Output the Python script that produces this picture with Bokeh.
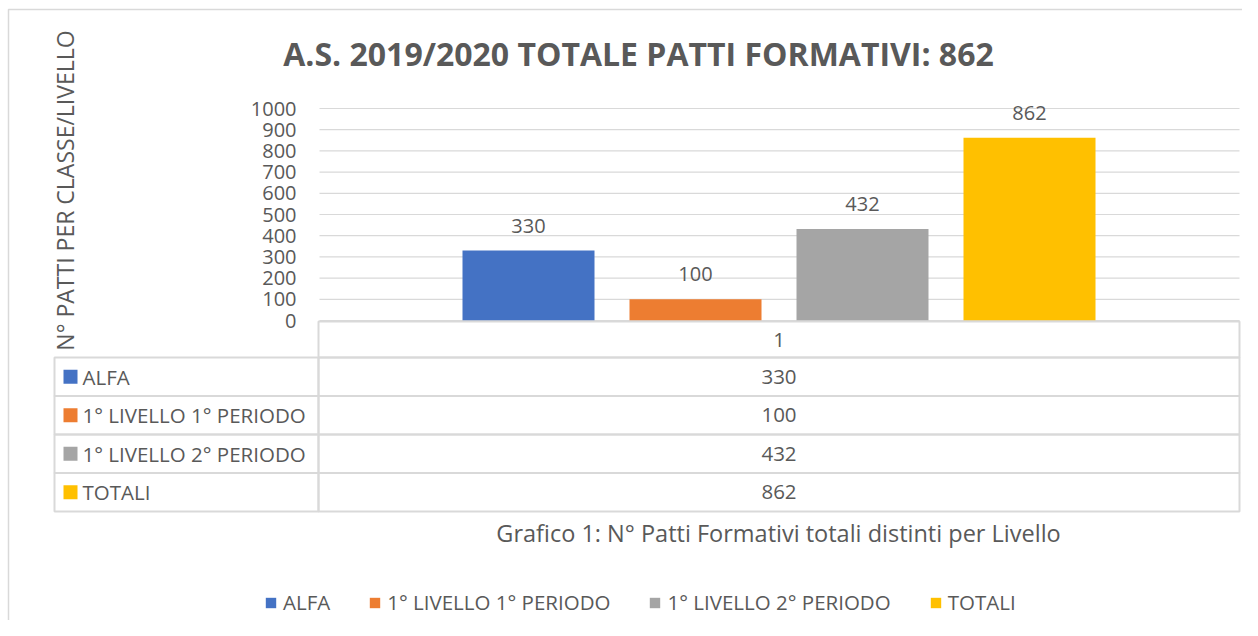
from bokeh.plotting import figure
from bokeh.models import Range1d, Legend, LegendItem, ColumnDataSource
from bokeh.core.properties import value
from bokeh.embed import file_html
from bokeh.resources import INLINE

# ---------------- data ----------------
title_text = "A.S. 2019/2020 TOTALE PATTI FORMATIVI: 862"
y_axis_title = "N° PATTI PER CLASSE/LIVELLO"
caption_text = "Grafico 1: N° Patti Formativi totali distinti per Livello"
category = "1"
series = ["ALFA", "1° LIVELLO 1° PERIODO", "1° LIVELLO 2° PERIODO", "TOTALI"]
values = [330, 100, 432, 862]
colors = ["#4472C4", "#ED7D31", "#A5A5A5", "#FFC000"]
y_ticks = [0, 100, 200, 300, 400, 500, 600, 700, 800, 900, 1000]
y_tick_labels = [str(t) for t in y_ticks]

# ---------------- layout (pixels) ----------------
W, H = 1242, 620
FONT = "Open Sans"
TXT = "#595959"
LINE = "#D9D9D9"

PL, PR = 319, 1239          # plot area left / right
PY0, PY1 = 320, 108         # pixel row of value 0 and of value 1000
SLOT = 167                  # px per category slot
BAR_W = 132                 # px bar width
FIRST_CENTER = 528          # px centre of first bar

px_per_unit = (PY0 - PY1) / (y_ticks[-1] - y_ticks[0])

idx = list(range(len(series)))

p = figure(width=W, height=H,
           x_range=Range1d(-FIRST_CENTER / SLOT, (W - FIRST_CENTER) / SLOT),
           y_range=Range1d(-(H - PY0) / px_per_unit, PY0 / px_per_unit),
           output_backend="svg", toolbar_location=None,
           x_axis_type=None, y_axis_type=None,
           min_border=0, min_border_left=0, min_border_right=0,
           min_border_top=0, min_border_bottom=0)
p.extra_x_ranges = {"px": Range1d(0, W)}
p.extra_y_ranges = {"px": Range1d(H, 0)}
p.outline_line_color = None
p.background_fill_color = "white"
p.border_fill_color = "white"
p.grid.visible = False

PX = dict(x_range_name="px", y_range_name="px")

def txt(x, y, t, size, align="center", bold=False, angle=0.0, **kw):
    p.text(x=[x], y=[y], text=[t], text_align=align, text_baseline="middle",
           text_font=value(FONT), text_font_size=size, angle=angle,
           text_font_style="bold" if bold else "normal", text_color=TXT, **kw)

# outer chart border (top and left edges visible)
p.quad(left=[8], right=[W + 50], top=[9], bottom=[H + 50], fill_alpha=0,
       line_color=LINE, line_width=1.5, **PX)

# gridlines (value axis) -- x in pixels, y in data units
p.segment(x0=[PL] * len(y_ticks), x1=[PR] * len(y_ticks), y0=y_ticks, y1=y_ticks,
          line_color=LINE, line_width=1.2, x_range_name="px")

# y tick labels
p.text(x=[296] * len(y_ticks), y=y_ticks, text=y_tick_labels, text_align="right",
       text_baseline="middle", text_font=value(FONT), text_font_size="20px",
       text_color=TXT, x_range_name="px")

# bars
src = ColumnDataSource(dict(x=idx, top=values, color=colors, series=series,
                            labels=[str(v) for v in values]))
bars = p.vbar(x="x", top="top", bottom=0, width=BAR_W / SLOT, fill_color="color",
              line_color=None, source=src)

# data labels
p.text(x="x", y="top", text="labels", source=src, y_offset=-25, text_align="center",
       text_baseline="middle", text_font=value(FONT), text_font_size="20px",
       text_color=TXT)

# titles
txt(638, 53, title_text, "32px", bold=True, **PX)
txt(64, 190, y_axis_title, "23px", angle=1.5707963, **PX)
txt(778, 532, caption_text, "23.5px", **PX)

# data table
TL, TD, TR = 54, 318, 1239
HEAD_T, ROW_T, ROW_H = 321, 357, 38.5
p.quad(left=[TD], right=[TR], top=[HEAD_T], bottom=[ROW_T], fill_alpha=0,
       line_color=LINE, line_width=2, **PX)
txt((TD + TR) / 2, (HEAD_T + ROW_T) / 2, category, "20.5px", **PX)
for i, (s, v, c) in enumerate(zip(series, values, colors)):
    t = ROW_T + i * ROW_H
    b = t + ROW_H
    mid = (t + b) / 2
    p.quad(left=[TL, TD], right=[TD, TR], top=[t, t], bottom=[b, b], fill_alpha=0,
           line_color=LINE, line_width=2, **PX)
    p.quad(left=[63], right=[77], top=[mid - 7], bottom=[mid + 7], fill_color=c,
           line_color=None, **PX)
    txt(82, mid, s, "20.5px", align="left", **PX)
    txt((TD + TR) / 2, mid, str(v), "20.5px", **PX)

# bottom legend
items = [LegendItem(label=s, renderers=[bars], index=i) for i, s in enumerate(series)]
legend = Legend(items=items, orientation="horizontal", location=(264, H - 616),
                glyph_width=13, glyph_height=13, label_standoff=6, spacing=38,
                padding=0, margin=0, border_line_color=None, label_height=20,
                background_fill_alpha=0, label_text_font=FONT,
                label_text_font_size="20.5px", label_text_color=TXT)
p.add_layout(legend)

open("out.html", "w").write(file_html(p, INLINE))
